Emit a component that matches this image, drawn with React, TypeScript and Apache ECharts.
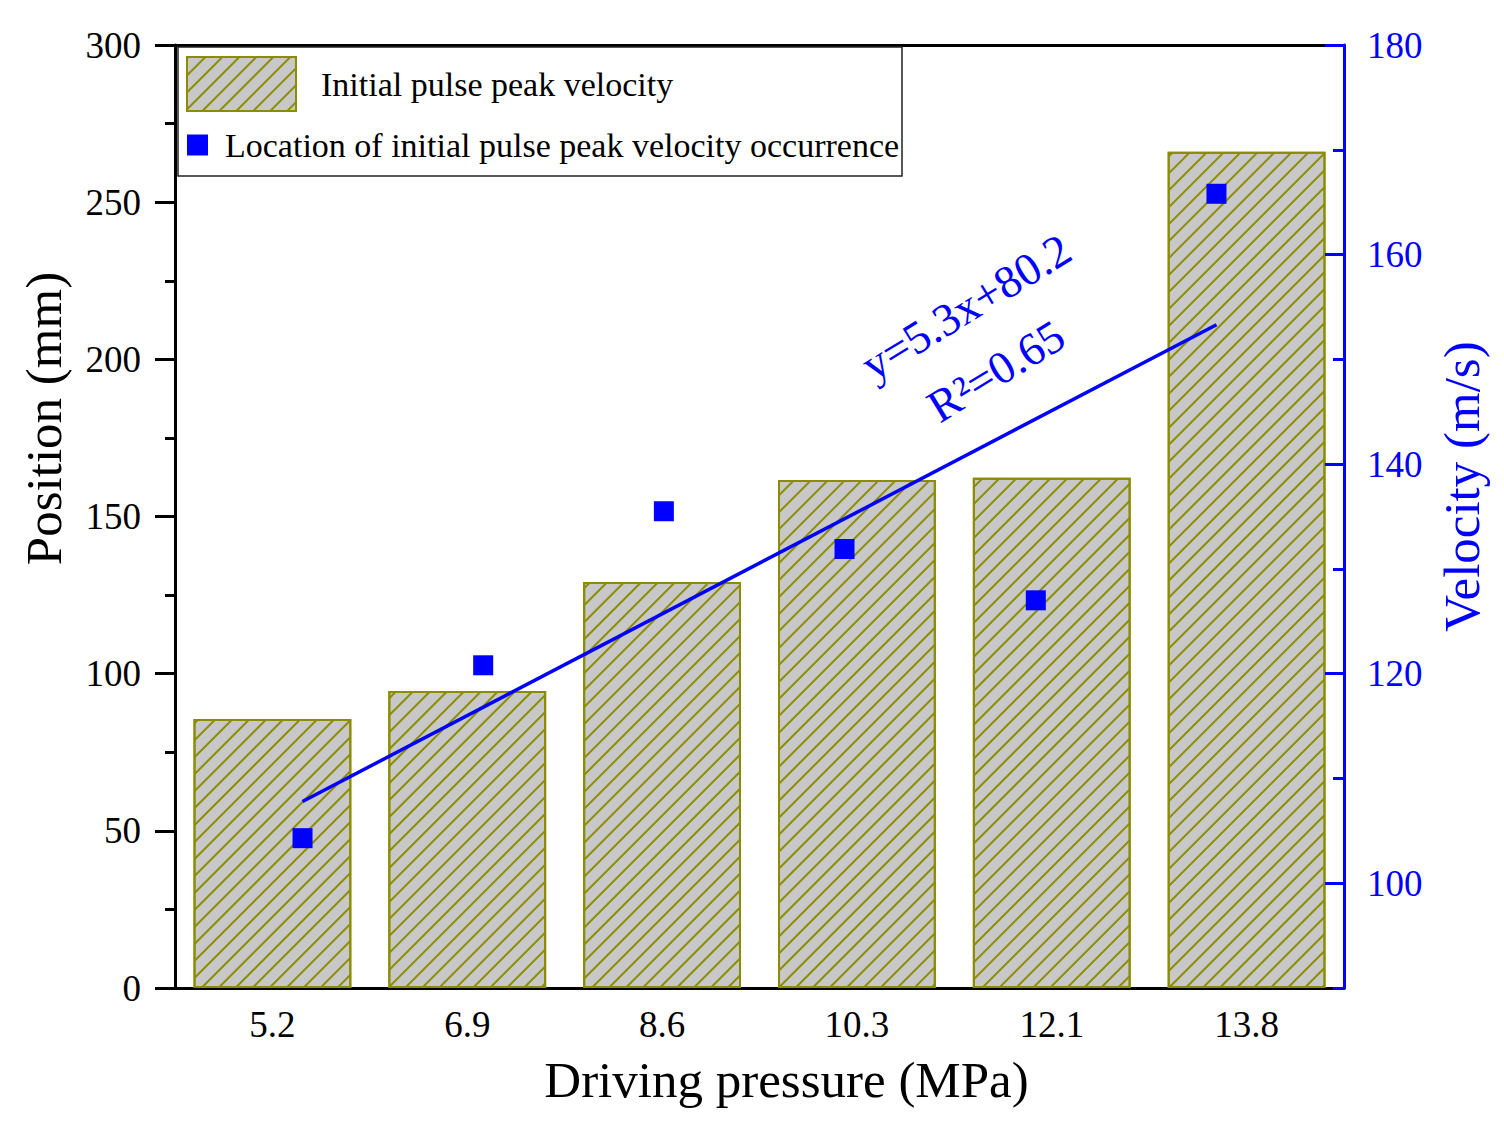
import React, { useRef, useEffect } from 'react';
import * as echarts from 'echarts';

const FONT = '"Liberation Serif", "Times New Roman", serif';
const BLUE = '#0000FF';
const OLIVE = '#8C8C00';

// ─── Data ─────────────────────────────────────────────────────────────────────
const PRESSURES = ['5.2', '6.9', '8.6', '10.3', '12.1', '13.8'];
const PRESSURE_VALUES = [5.2, 6.9, 8.6, 10.3, 12.1, 13.8];
// bars, read on the left axis
const BAR_VALUES = [85.6, 94.5, 129.2, 161.6, 162.3, 266.0];
// squares, read on the right axis
const SQUARE_VALUES = [104.3, 120.8, 135.5, 131.9, 127.0, 165.8];
// linear fit y=5.3x+80.2, end points
const FIT_X = [5.2, 13.8];
const FIT_Y = [107.8, 153.3];

const LEFT_TICKS = [0, 50, 100, 150, 200, 250, 300];
const RIGHT_MAJOR = [100, 120, 140, 160, 180];
const RIGHT_MINOR = [90, 110, 130, 150, 170];

const BAR_NAME = 'Initial pulse peak velocity';
const SQUARE_NAME = 'Location of initial pulse peak velocity occurrence';

function getOption(): echarts.EChartsCoreOption {
  const hatch = {
    symbol: 'rect',
    symbolSize: 1,
    dashArrayX: [1, 0],
    dashArrayY: [2, 10],
    rotation: -Math.PI / 4,
    color: OLIVE,
  };
  return {
    animation: false,
    backgroundColor: '#FFFFFF',
    textStyle: { fontFamily: FONT },
    grid: { left: 175, right: 160, top: 45, bottom: 145, outerBoundsMode: 'none' },
    legend: [
      {
        data: [BAR_NAME],
        left: 186,
        top: 56,
        padding: 0,
        itemWidth: 109,
        itemHeight: 54,
        icon: 'rect',
        textStyle: { fontFamily: FONT, fontSize: 34, color: '#000', padding: [0, 0, 0, 20] },
      },
      {
        data: [SQUARE_NAME],
        left: 187,
        top: 128,
        padding: 0,
        itemWidth: 21,
        itemHeight: 21,
        icon: 'rect',
        itemStyle: { opacity: 1 },
        textStyle: { fontFamily: FONT, fontSize: 34, color: '#000', padding: [0, 0, 0, 12] },
      },
    ],
    xAxis: [
      {
        type: 'category',
        data: PRESSURES,
        position: 'bottom',
        axisLine: { show: true, lineStyle: { color: '#000', width: 3 } },
        axisTick: { show: false },
        axisLabel: { fontFamily: FONT, fontSize: 37, color: '#000', margin: 18 },
        splitLine: { show: false },
        name: 'Driving pressure (MPa)',
        nameLocation: 'middle',
        nameGap: 66,
        nameTextStyle: { fontFamily: FONT, fontSize: 51, color: '#000', padding: [0, 0, 0, 54] },
      },
      {
        type: 'value',
        min: 4,
        max: 15,
        position: 'top',
        axisLine: { show: true, lineStyle: { color: '#000', width: 3 } },
        axisTick: { show: false },
        axisLabel: { show: false },
        splitLine: { show: false },
      },
    ],
    yAxis: [
      {
        type: 'value',
        min: 0,
        max: 300,
        interval: 50,
        position: 'left',
        axisLine: { show: true, lineStyle: { color: '#000', width: 3 } },
        axisTick: { show: true, inside: false, length: 20, lineStyle: { color: '#000', width: 3 } },
        minorTick: { show: true, splitNumber: 2, length: 10, lineStyle: { color: '#000', width: 3 } },
        axisLabel: { fontFamily: FONT, fontSize: 37, color: '#000', margin: 34, customValues: LEFT_TICKS },
        splitLine: { show: false },
        minorSplitLine: { show: false },
        name: 'Position (mm)',
        nameLocation: 'middle',
        nameGap: 106,
        nameRotate: 90,
        nameTextStyle: { fontFamily: FONT, fontSize: 51, color: '#000', padding: [0, 0, 0, 196] },
      },
      {
        type: 'value',
        min: 90,
        max: 180,
        position: 'right',
        z: 3,
        axisLine: { show: true, lineStyle: { color: BLUE, width: 3 } },
        axisTick: { show: true, inside: true, length: 19, customValues: RIGHT_MAJOR, lineStyle: { color: BLUE, width: 3 } },
        axisLabel: { fontFamily: FONT, fontSize: 37, color: BLUE, margin: 23, customValues: RIGHT_MAJOR },
        splitLine: { show: false },
        name: 'Velocity (m/s)',
        nameLocation: 'middle',
        nameGap: 92,
        nameRotate: 90,
        nameTextStyle: { fontFamily: FONT, fontSize: 51, color: BLUE, padding: [0, 0, 0, 60] },
      },
      {
        type: 'value',
        min: 90,
        max: 180,
        position: 'right',
        z: 3,
        axisLine: { show: false },
        axisTick: { show: true, inside: true, length: 11, customValues: RIGHT_MINOR, lineStyle: { color: BLUE, width: 3 } },
        axisLabel: { show: false },
        splitLine: { show: false },
      },
    ],
    graphic: [
      {
        type: 'rect',
        z: 1,
        shape: { x: 178, y: 47, width: 724, height: 129 },
        style: { fill: '#FFFFFF', stroke: '#222', lineWidth: 1.5 },
      },
      {
        type: 'text',
        z: 10,
        x: 966,
        y: 307,
        rotation: 0.55,
        style: { text: 'y=5.3x+80.2', fill: BLUE, font: `46px ${FONT}`, align: 'center', verticalAlign: 'middle' },
      },
      {
        type: 'text',
        z: 10,
        x: 996,
        y: 371,
        rotation: 0.55,
        style: { text: 'R²=0.65', fill: BLUE, font: `46px ${FONT}`, align: 'center', verticalAlign: 'middle' },
      },
    ],
    series: [
      {
        name: BAR_NAME,
        type: 'bar',
        xAxisIndex: 0,
        yAxisIndex: 0,
        barCategoryGap: '19%',
        data: BAR_VALUES,
        itemStyle: {
          color: '#C8C8C8',
          borderColor: OLIVE,
          borderWidth: 2,
          decal: hatch,
        },
      },
      {
        name: SQUARE_NAME,
        type: 'scatter',
        xAxisIndex: 1,
        yAxisIndex: 1,
        symbol: 'rect',
        symbolSize: 20,
        itemStyle: { color: BLUE, opacity: 1 },
        data: PRESSURE_VALUES.map((x, i) => [x, SQUARE_VALUES[i]]),
        z: 4,
      },
      {
        name: 'fit',
        type: 'line',
        xAxisIndex: 1,
        yAxisIndex: 1,
        symbol: 'none',
        lineStyle: { color: BLUE, width: 3.5 },
        data: FIT_X.map((x, i) => [x, FIT_Y[i]]),
        z: 3,
      },
    ],
  };
}

export default function App() {
  const ref = useRef<HTMLDivElement>(null);

  useEffect(() => {
    if (!ref.current) return;
    const chart = echarts.init(ref.current, undefined, { renderer: 'svg' });
    chart.setOption(getOption());
    return () => chart.dispose();
  }, []);

  return (
    <div
      ref={ref}
      style={{ position: 'fixed', left: 0, top: 0, width: 1504, height: 1133, background: '#fff' }}
    />
  );
}
